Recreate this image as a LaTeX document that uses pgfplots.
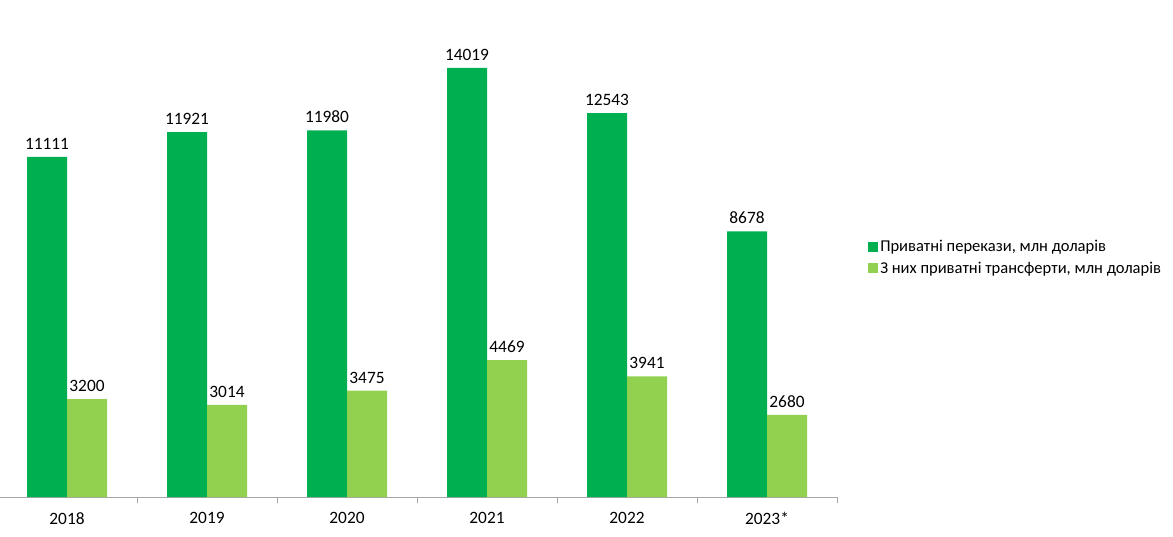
\documentclass[border=0pt]{standalone}
\usepackage{pgfplots}
\pgfplotsset{compat=1.18}
\usepackage{fontspec}
\setmainfont{Carlito}
\definecolor{dg}{HTML}{00B050}
\definecolor{lg}{HTML}{92D050}
\definecolor{ax}{HTML}{A6A6A6}
\begin{document}
\begin{tikzpicture}
\useasboundingbox (0pt,-29.25pt) rectangle (879.75pt,372.75pt);
\begin{axis}[
  at={(-2.25pt,0pt)}, anchor=south west,
  scale only axis, width=630pt, height=372.75pt,
  xmin=-0.5, xmax=5.5, ymin=0, ymax=16241,
  hide y axis,
  axis x line*=bottom,
  x axis line style={ax, line width=0.75pt, -},
  xtick={0,1,2,3,4,5},
  xticklabels={2018,2019,2020,2021,2022,2023*},
  major tick length=0pt,
  minor xtick={-0.5,0.5,1.5,2.5,3.5,4.5,5.5},
  minor tick length=4.5pt,
  tick align=outside,
  minor tick style={ax, line width=0.75pt},
  xticklabel style={font=\fontsize{13pt}{15pt}\selectfont, yshift=-8pt},
  ybar, bar width=30pt,
  nodes near coords,
  every node near coord/.append style={font=\fontsize{13pt}{15pt}\selectfont, black, yshift=2pt},
  /pgf/number format/.cd, fixed, 1000 sep={}, assume math mode=true,
  /pgfplots/.cd,
  legend style={at={(rel axis cs:1.0345,0.525)}, anchor=north west, draw=none, fill=none,
    font=\fontsize{12.4pt}{15pt}\selectfont, row sep=2pt, legend cell align=left,
    inner sep=1pt,
    /tikz/every even column/.append style={column sep=2.5pt}},
  legend image code/.code={\fill[#1] (0pt,-3.5pt) rectangle (7.5pt,4pt);},
  clip=false,
]
\addplot[fill=dg, draw=none, bar shift=-15pt] coordinates {(0,11111) (1,11921) (2,11980) (3,14019) (4,12543) (5,8678)};
\addplot[fill=lg, draw=none, bar shift=15pt] coordinates {(0,3200) (1,3014) (2,3475) (3,4469) (4,3941) (5,2680)};
\legend{{Приватні перекази, млн доларів}, {З них приватні трансферти, млн доларів}}
\end{axis}
\end{tikzpicture}
\end{document}
